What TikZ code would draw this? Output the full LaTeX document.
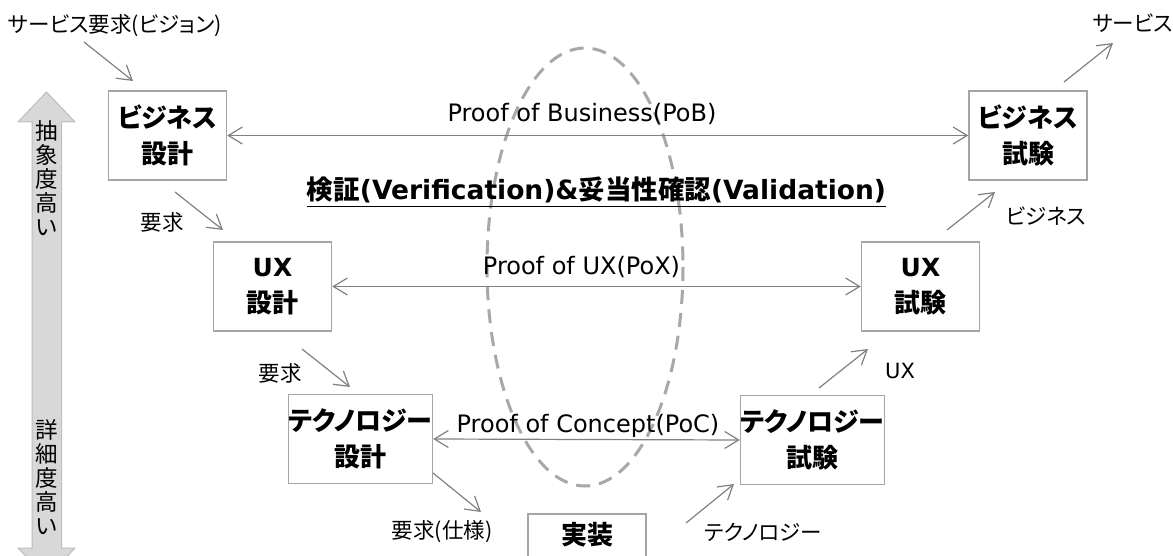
\documentclass[tikz,border=0pt]{standalone}
\usepackage{fontspec}
\usetikzlibrary{arrows.meta}
\newfontfamily\jp[RawFeature=+palt]{Noto Sans CJK JP}
\newfontfamily\lat{DejaVu Sans}
\definecolor{boxgray}{RGB}{165,165,165}
\definecolor{linegray}{RGB}{128,128,128}
\definecolor{ovalgray}{RGB}{168,168,168}
\definecolor{barfill}{RGB}{216,216,216}
\definecolor{baredge}{RGB}{190,190,190}
\begin{document}
\begin{tikzpicture}[x=1pt, y=-1pt,
  stage/.style={draw=boxgray, line width=1.5pt, minimum width=118pt, minimum height=89pt,
    inner sep=0pt, align=center, font=\jp\bfseries\fontsize{26}{36}\selectfont},
  lbl/.style={inner sep=0pt, font=\jp\fontsize{21.5}{24}\selectfont},
  prooflbl/.style={inner sep=0pt, anchor=base, font=\lat\fontsize{24}{28}\selectfont},
  vlbl/.style={inner sep=0pt, align=center, font=\jp\fontsize{22.5}{24}\selectfont},
  flow/.style={draw=linegray, line width=1.2pt, -{Straight Barb[length=14pt,width=17pt]}},
  twoway/.style={draw=linegray, line width=1.2pt,
    {Straight Barb[length=14pt,width=17pt]}-{Straight Barb[length=14pt,width=17pt]}}]
\useasboundingbox (0,0) rectangle (1173,556);
\clip (0,0) rectangle (1173,556);

% abstraction scale on the left
\filldraw[fill=barfill, draw=baredge, line width=1pt]
  (46.5,92) -- (75,122) -- (61.5,122) -- (61.5,548) -- (75,548) -- (46.5,578)
  -- (18,548) -- (32,548) -- (32,122) -- (18,122) -- cycle;
\node[vlbl] (abst) at (46.5,178) {抽\\象\\度\\高\\い};
\node[vlbl] (detl) at (46.5,477) {詳\\細\\度\\高\\い};

% verification / validation oval
\draw[ovalgray, line width=3pt, dash pattern=on 14pt off 9pt]
  (585,267) ellipse [x radius=98, y radius=219];

% design and test stages
\node[stage] (bd) at (167.5,135.5) {ビジネス\\設計};
\node[stage] (bt) at (1028,135.5) {ビジネス\\試験};
\node[stage] (ud) at (272.5,286.5) {{\lat\fontsize{25}{36}\selectfont UX}\\設計};
\node[stage] (ut) at (920.5,286.5) {{\lat\fontsize{25}{36}\selectfont UX}\\試験};
\node[stage] (td) at (360.5,439) {テクノロジー\\設計};
\node[stage] (tt) at (812.5,440) {テクノロジー\\試験};
\node[stage, minimum height=88pt, anchor=north] (impl) at (587,513) {};
\node[inner sep=0pt, font=\jp\bfseries\fontsize{26}{30}\selectfont] (impltxt) at (587,535) {実装};

% proofs between design and test
\draw[twoway] (bd.east) -- (bt.west);
\draw[twoway] (ud.east) -- (ut.west);
\draw[twoway] (td.east) -- (tt.west);
\node[prooflbl] (pob) at (582,122) {Proof of Business(PoB)};
\node[prooflbl] (pox) at (581.5,275) {Proof of UX(PoX)};
\node[prooflbl] (poc) at (588,432) {Proof of Concept(PoC)};

% heading
\node[inner sep=0pt, font=\jp\bfseries\fontsize{26.5}{30}\selectfont] (title) at (596.5,190)
  {検証{\lat(Verification)\&}妥当性確認{\lat(Validation)}};
\draw[black, line width=1.6pt] ([yshift=-7pt]title.base west) -- ([yshift=-7pt]title.base east);

% requirements flowing down the left side
\node[lbl] (svreq) at (115,26) {サービス要求(ビジョン)};
\coordinate (a1s) at (84,42);  \coordinate (a1e) at (133,81);
\draw[flow] (a1s) -- (a1e);
\node[lbl] (req1) at (162,222) {要求};
\coordinate (a2s) at (175,192); \coordinate (a2e) at (223,230);
\draw[flow] (a2s) -- (a2e);
\node[lbl] (req2) at (280,373) {要求};
\coordinate (a3s) at (302,349); \coordinate (a3e) at (350,387);
\draw[flow] (a3s) -- (a3e);
\node[lbl] (spec) at (442,532) {要求(仕様)};
\coordinate (a4s) at (433,473); \coordinate (a4e) at (481,512);
\draw[flow] (a4s) -- (a4e);

% results flowing up the right side
\node[lbl] (tech) at (763,532) {テクノロジー};
\coordinate (a5s) at (686,523); \coordinate (a5e) at (734,484);
\draw[flow] (a5s) -- (a5e);
\node[lbl, font=\lat\fontsize{21}{24}\selectfont] (uxo) at (900,371) {UX};
\coordinate (a6s) at (819,388); \coordinate (a6e) at (868,349);
\draw[flow] (a6s) -- (a6e);
\node[lbl] (biz) at (1046,216) {ビジネス};
\coordinate (a7s) at (947,230); \coordinate (a7e) at (995,192);
\draw[flow] (a7s) -- (a7e);
\node[lbl] (svc) at (1133,23) {サービス};
\coordinate (a8s) at (1064,82); \coordinate (a8e) at (1113,43);
\draw[flow] (a8s) -- (a8e);
\end{tikzpicture}
\end{document}
